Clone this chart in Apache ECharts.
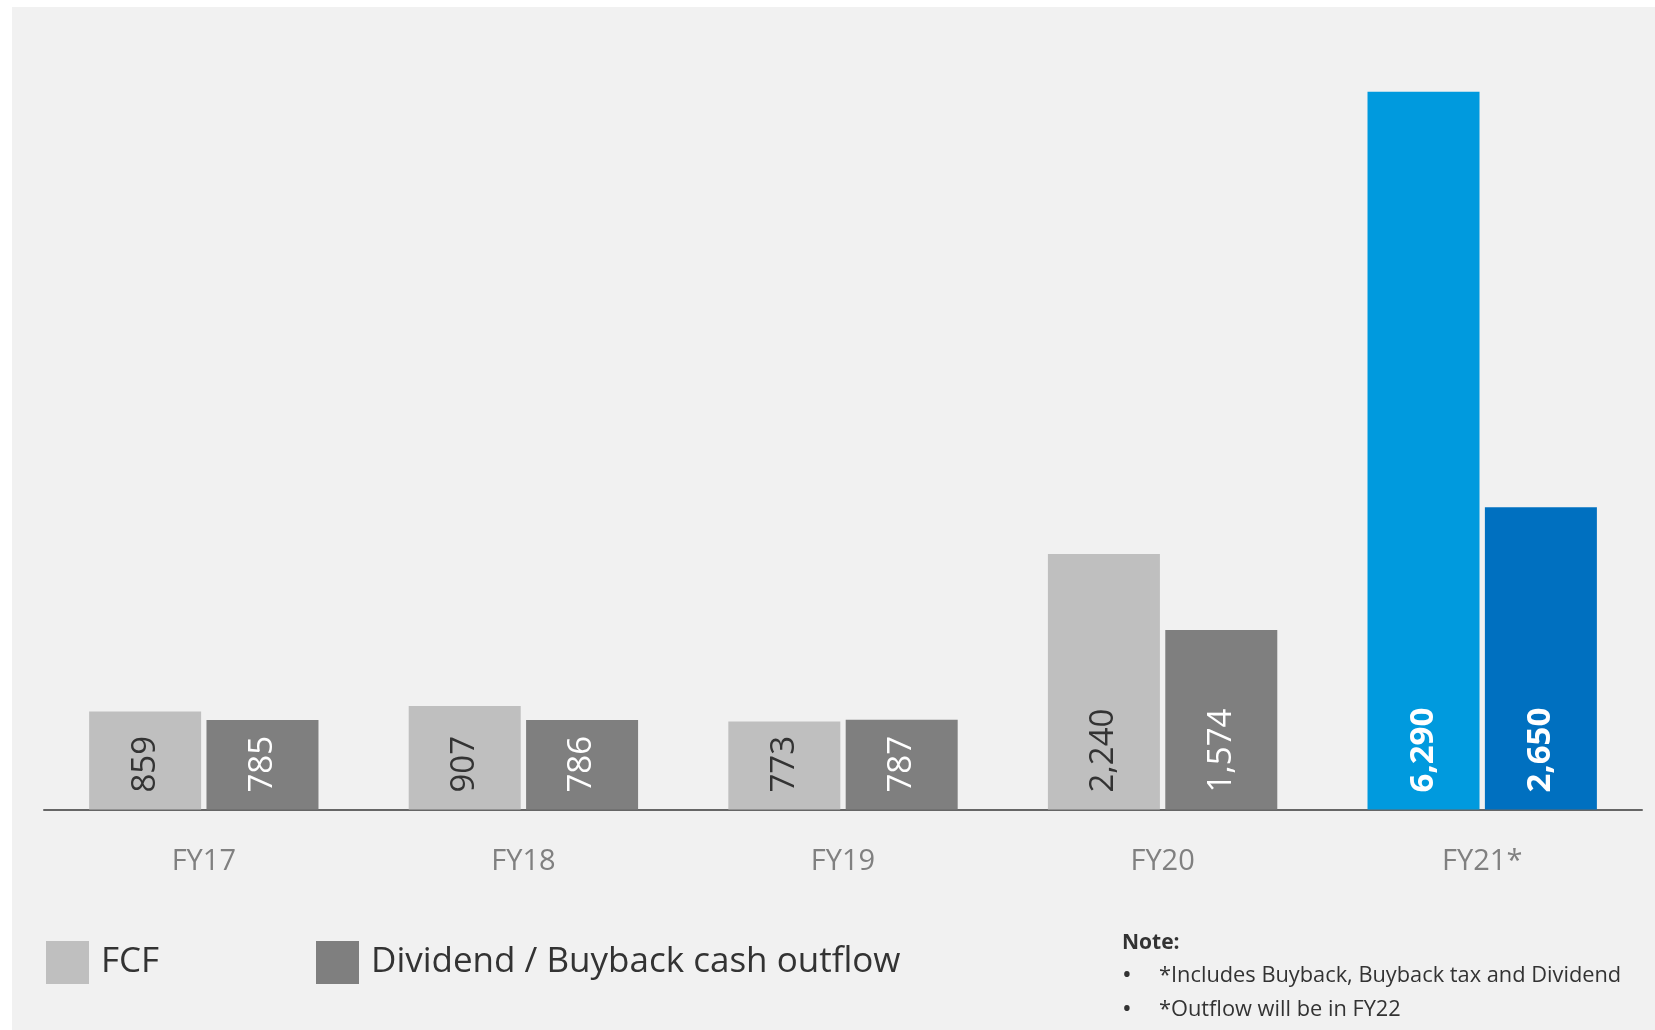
<!DOCTYPE html>
<html>
<head>
<meta charset="utf-8">
<script src="https://cdn.jsdelivr.net/npm/echarts@6/dist/echarts.min.js"></script>
<style>
  html, body { margin: 0; padding: 0; background: #fff; }
  #chart { width: 1655px; height: 1030px; }
</style>
</head>
<body>
<div id="chart"></div>
<script>
const categories = ['FY17', 'FY18', 'FY19', 'FY20', 'FY21*']
const fcf = [859, 907, 773, 2240, 6290]
const outflow = [785, 786, 787, 1574, 2650]
const seriesNames = ['FCF', 'Dividend / Buyback cash outflow']
const notes = ['*Includes Buyback, Buyback tax and Dividend', '*Outflow will be in FY22']

const FONT = '"Open Sans", "Noto Sans", sans-serif'
const lastIdx = categories.length - 1

// the last year is drawn in blue with bold labels
function toData(values, hiColor) {
  return values.map((v, i) => {
    if (i !== lastIdx) return v
    return {
      value: v,
      itemStyle: { color: hiColor },
      label: { color: '#fff', fontWeight: 'bold' }
    }
  })
}

const label = {
  show: true,
  position: 'insideBottom',
  rotate: 90,
  align: 'left',
  verticalAlign: 'middle',
  distance: 17,
  fontSize: 33,
  fontFamily: FONT,
  formatter: p => p.value.toLocaleString('en-US')
}

const legendBase = {
  top: 941, padding: 0,
  icon: 'rect', itemWidth: 43, itemHeight: 43,
  textStyle: { fontSize: 35, color: '#333', padding: [3, 0, 0, 7] }
}

const option = {
  backgroundColor: '#fff',
  animation: false,
  textStyle: { fontFamily: FONT },
  graphic: [
    {
      type: 'rect', z: -10,
      shape: { x: 12, y: 7, width: 1643, height: 1023 },
      style: { fill: '#f1f1f1' }
    },
    {
      type: 'text', x: 1122, y: 943,
      style: { text: 'Note:', fontFamily: FONT, fontSize: 21, fontWeight: 'bold', fill: '#333', verticalAlign: 'middle' }
    },
    ...notes.flatMap((t, i) => [
      {
        type: 'text', x: 1122, y: 976 + i * 34,
        style: { text: '•', fontFamily: FONT, fontSize: 26, fill: '#333', verticalAlign: 'middle' }
      },
      {
        type: 'text', x: 1159, y: 976 + i * 34,
        style: { text: t, fontFamily: FONT, fontSize: 21.8, fill: '#333', verticalAlign: 'middle' }
      }
    ])
  ],
  legend: [
    { ...legendBase, data: [seriesNames[0]], left: 46 },
    { ...legendBase, data: [seriesNames[1]], left: 316 }
  ],
  grid: { left: 44, right: 13, top: 10.8, bottom: 220.4, containLabel: false },
  xAxis: {
    type: 'category',
    data: categories,
    axisTick: { show: false },
    axisLine: { lineStyle: { color: '#666', width: 2 } },
    axisLabel: { fontSize: 29, color: '#808080', margin: 38, fontFamily: FONT }
  },
  yAxis: {
    type: 'value', min: 0, max: 7000,
    show: false,
    splitLine: { show: false }
  },
  series: [
    {
      name: seriesNames[0],
      type: 'bar',
      data: toData(fcf, '#009ade'),
      itemStyle: { color: '#bfbfbf' },
      barWidth: 112,
      barGap: '4.8%',
      label: { ...label, color: '#333' }
    },
    {
      name: seriesNames[1],
      type: 'bar',
      data: toData(outflow, '#0070c0'),
      itemStyle: { color: '#7f7f7f' },
      barWidth: 112,
      label: { ...label, color: '#fff' }
    }
  ]
}

const myChart = echarts.init(document.getElementById('chart'))
myChart.setOption(option)
</script>
</body>
</html>
